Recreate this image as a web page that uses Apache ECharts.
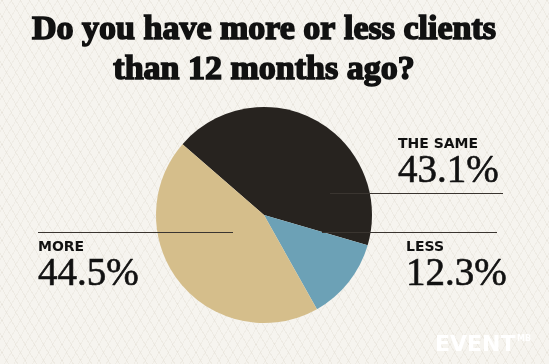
<!DOCTYPE html>
<html><head><meta charset="utf-8">
<script src="https://cdn.jsdelivr.net/npm/echarts@6/dist/echarts.min.js"></script>
<style>html,body{margin:0;padding:0;background:#f6f4ef;}
#c{width:549px;height:364px;background-color:#f6f4ef;
background-image:repeating-linear-gradient(60deg, rgba(0,0,0,0) 0 7px, rgba(200,192,175,0.18) 7px 8px),
repeating-linear-gradient(-60deg, rgba(0,0,0,0) 0 7px, rgba(200,192,175,0.14) 7px 8px);}</style>
</head><body><div id="c"></div>
<script>
const titleLines = ['Do you have more or less clients', 'than 12 months ago?'];
const categories = ['THE SAME', 'LESS', 'MORE'];
const values = [43.1, 12.3, 44.5];
const colors = ['#27231f', '#6ca1b6', '#d5be8b'];

const chart = echarts.init(document.getElementById('c'));
const layouts = [
  {x: 398, y: 190, verticalAlign: 'bottom', pts: [[330,193.5],[503,193.5]]},
  {x: 406, y: 238, verticalAlign: 'top', pts: [[322,232.5],[497,232.5]]},
  {x: 38, y: 238, verticalAlign: 'top', pts: [[233,232.5],[38,232.5]]}
];
chart.setOption({
  backgroundColor: 'transparent',
  animation: false,
  title: {
    text: titleLines.join('\n'),
    left: 259, top: 5, textAlign: 'center',
    textStyle: {fontFamily: 'Liberation Serif', fontWeight: 'bold', fontSize: 34, lineHeight: 40, color: '#111',
      textBorderColor: '#111', textBorderWidth: 1.6}
  },
  graphic: layouts.map(l => ({
    type: 'line', z: 100, silent: true,
    shape: {x1: l.pts[0][0], y1: l.pts[0][1], x2: l.pts[1][0], y2: l.pts[1][1]},
    style: {stroke: '#3a3530', lineWidth: 1}
  })).concat([{
    type: 'group', right: 18, bottom: 8, children: [
      {type: 'text', style: {text: 'EVENT', x: 0, y: 0, fontFamily: 'DejaVu Sans', fontWeight: 'bold', fontSize: 22, fill: '#ffffff',
        shadowColor: 'rgba(0,0,0,0.3)', shadowBlur: 3, shadowOffsetX: 1, shadowOffsetY: 1}},
      {type: 'text', style: {text: 'MB', x: 82, y: 1, fontFamily: 'DejaVu Sans', fontWeight: 'bold', fontSize: 8, fill: '#ffffff',
        shadowColor: 'rgba(0,0,0,0.3)', shadowBlur: 2, shadowOffsetX: 1, shadowOffsetY: 1}}
    ]
  }]),
  series: [{
    type: 'pie',
    center: [264, 215],
    radius: 108,
    startAngle: 139,
    clockwise: true,
    silent: true,
    data: categories.map((c, i) => ({name: c, value: values[i], itemStyle: {color: colors[i]}})),
    label: {
      show: true,
      formatter: p => '{n|' + p.name + '}\n{v|' + p.value.toFixed(1) + '%}',
      align: 'left',
      rich: {
        n: {fontFamily: 'DejaVu Sans', fontWeight: 'bold', fontSize: 14, lineHeight: 18, color: '#111'},
        v: {fontFamily: 'Liberation Serif', fontSize: 39, lineHeight: 37, color: '#111',
          textBorderColor: '#111', textBorderWidth: 0.6}
      }
    },
    labelLine: {show: false},
    labelLayout: p => {
      const l = layouts[p.dataIndex];
      return {x: l.x, y: l.y, align: 'left', verticalAlign: l.verticalAlign};
    }
  }]
});
</script></body></html>
